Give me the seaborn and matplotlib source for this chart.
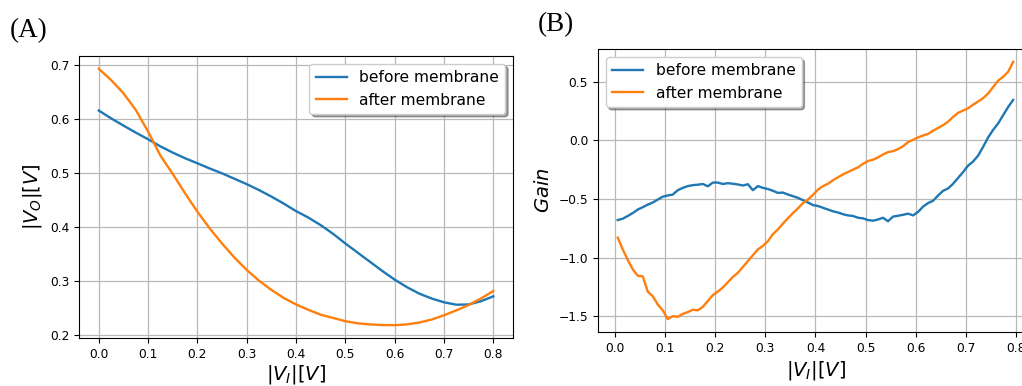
import numpy as np
import matplotlib
matplotlib.use("Agg")
import matplotlib.pyplot as plt
import seaborn as sns

# Panel A: output voltage vs input voltage
vi_a = [0.000, 0.025, 0.050, 0.075, 0.100, 0.125, 0.150, 0.175, 0.200, 0.225, 0.250,
        0.275, 0.300, 0.325, 0.350, 0.375, 0.400, 0.425, 0.450, 0.475, 0.500, 0.525,
        0.550, 0.575, 0.600, 0.625, 0.650, 0.675, 0.700, 0.725, 0.750, 0.775, 0.800]
vo_before = [0.6165, 0.602, 0.5886, 0.5756, 0.5632, 0.5500, 0.5385, 0.5280, 0.5187, 0.509, 0.500,
             0.490, 0.480, 0.469, 0.457, 0.444, 0.430, 0.418, 0.404, 0.388, 0.370, 0.353,
             0.336, 0.319, 0.303, 0.289, 0.277, 0.268, 0.261, 0.2565, 0.257, 0.263, 0.272]
vo_after = [0.6938, 0.673, 0.6486, 0.6177, 0.5775, 0.533, 0.499, 0.463, 0.429, 0.398, 0.370,
            0.344, 0.321, 0.301, 0.284, 0.269, 0.257, 0.247, 0.238, 0.232, 0.226, 0.222,
            0.220, 0.2188, 0.2186, 0.220, 0.2235, 0.229, 0.237, 0.246, 0.256, 0.268, 0.282]

# Panel B: gain vs input voltage (sampled every 10 mV from 5 mV)
vi_b = np.round(0.005 + 0.01 * np.arange(80), 3)
gain_before = [
    -0.680, -0.668, -0.645, -0.620, -0.590, -0.570, -0.548, -0.530, -0.505, -0.480,
    -0.470, -0.462, -0.425, -0.405, -0.390, -0.382, -0.378, -0.372, -0.392, -0.360,
    -0.360, -0.372, -0.365, -0.370, -0.376, -0.385, -0.374, -0.425, -0.390, -0.405,
    -0.415, -0.430, -0.448, -0.445, -0.462, -0.476, -0.490, -0.510, -0.530, -0.552,
    -0.560, -0.575, -0.590, -0.605, -0.615, -0.630, -0.640, -0.645, -0.660, -0.665,
    -0.680, -0.685, -0.675, -0.660, -0.690, -0.650, -0.643, -0.635, -0.625, -0.640,
    -0.610, -0.565, -0.535, -0.515, -0.470, -0.430, -0.410, -0.370, -0.320, -0.270,
    -0.215, -0.180, -0.130, -0.055, 0.025, 0.090, 0.145, 0.215, 0.285, 0.345]
gain_after = [
    -0.830, -0.930, -1.020, -1.100, -1.155, -1.160, -1.290, -1.330, -1.400, -1.450,
    -1.525, -1.500, -1.505, -1.480, -1.465, -1.445, -1.450, -1.420, -1.370, -1.320,
    -1.290, -1.255, -1.210, -1.165, -1.130, -1.080, -1.030, -0.980, -0.930, -0.900,
    -0.860, -0.800, -0.760, -0.710, -0.665, -0.620, -0.580, -0.535, -0.505, -0.465,
    -0.420, -0.390, -0.370, -0.340, -0.315, -0.290, -0.270, -0.250, -0.230, -0.200,
    -0.176, -0.165, -0.145, -0.120, -0.100, -0.092, -0.075, -0.050, -0.015, 0.005,
    0.025, 0.042, 0.055, 0.083, 0.106, 0.130, 0.160, 0.200, 0.235, 0.255,
    0.273, 0.305, 0.332, 0.360, 0.400, 0.455, 0.510, 0.543, 0.585, 0.670]

series_labels = ["before membrane", "after membrane"]
series_colors = ["#1f77b4", "#ff7f0e"]
panel_tags = ["(A)", "(B)"]

plt.rcParams.update({
    "font.family": "DejaVu Sans",
    "mathtext.fontset": "dejavusans",
    "axes.linewidth": 0.8,
    "xtick.labelsize": 8.8,
    "ytick.labelsize": 8.8,
    "xtick.major.size": 3.5,
    "ytick.major.size": 3.5,
})

fig = plt.figure(figsize=(10.22, 3.86), dpi=100)
ax_a = fig.add_axes([0.0773, 0.1244, 0.4247, 0.7306])
ax_b = fig.add_axes([0.5851, 0.1399, 0.4256, 0.7332])

panels = [
    (ax_a, vi_a, [vo_before, vo_after], r"$|V_O|[V]$", "upper right", 1.5),
    (ax_b, vi_b, [gain_before, gain_after], r"$Gain$", "upper left", 3.0),
]

for ax, x, curves, ylabel, loc, xpad in panels:
    for y, lab, col in zip(curves, series_labels, series_colors):
        sns.lineplot(x=x, y=y, ax=ax, color=col, linewidth=1.7, label=lab,
                     estimator=None, sort=False)
    ax.grid(True, color="#b8b8b8", linewidth=0.9)
    ax.set_axisbelow(True)
    ax.set_xlabel(r"$|V_I|[V]$", fontsize=14, labelpad=xpad)
    ax.set_ylabel(ylabel, fontsize=14)
    ax.set_xticks([0.0, 0.1, 0.2, 0.3, 0.4, 0.5, 0.6, 0.7, 0.8])
    ax.margins(x=0.05, y=0.05)
    ax.legend(loc=loc, fontsize=11.2, shadow=True, fancybox=True)
    for s in ax.spines.values():
        s.set_color("black")

ax_a.set_yticks([0.2, 0.3, 0.4, 0.5, 0.6, 0.7])
ax_b.set_yticks([-1.5, -1.0, -0.5, 0.0, 0.5])

fig.text(10 / 1022, 1 - 37 / 386, panel_tags[0], family="Liberation Serif",
         fontsize=19.5, va="baseline", ha="left")
fig.text(538 / 1022, 1 - 31 / 386, panel_tags[1], family="Liberation Serif",
         fontsize=19.5, va="baseline", ha="left")

fig.savefig("out.png", dpi=100)
